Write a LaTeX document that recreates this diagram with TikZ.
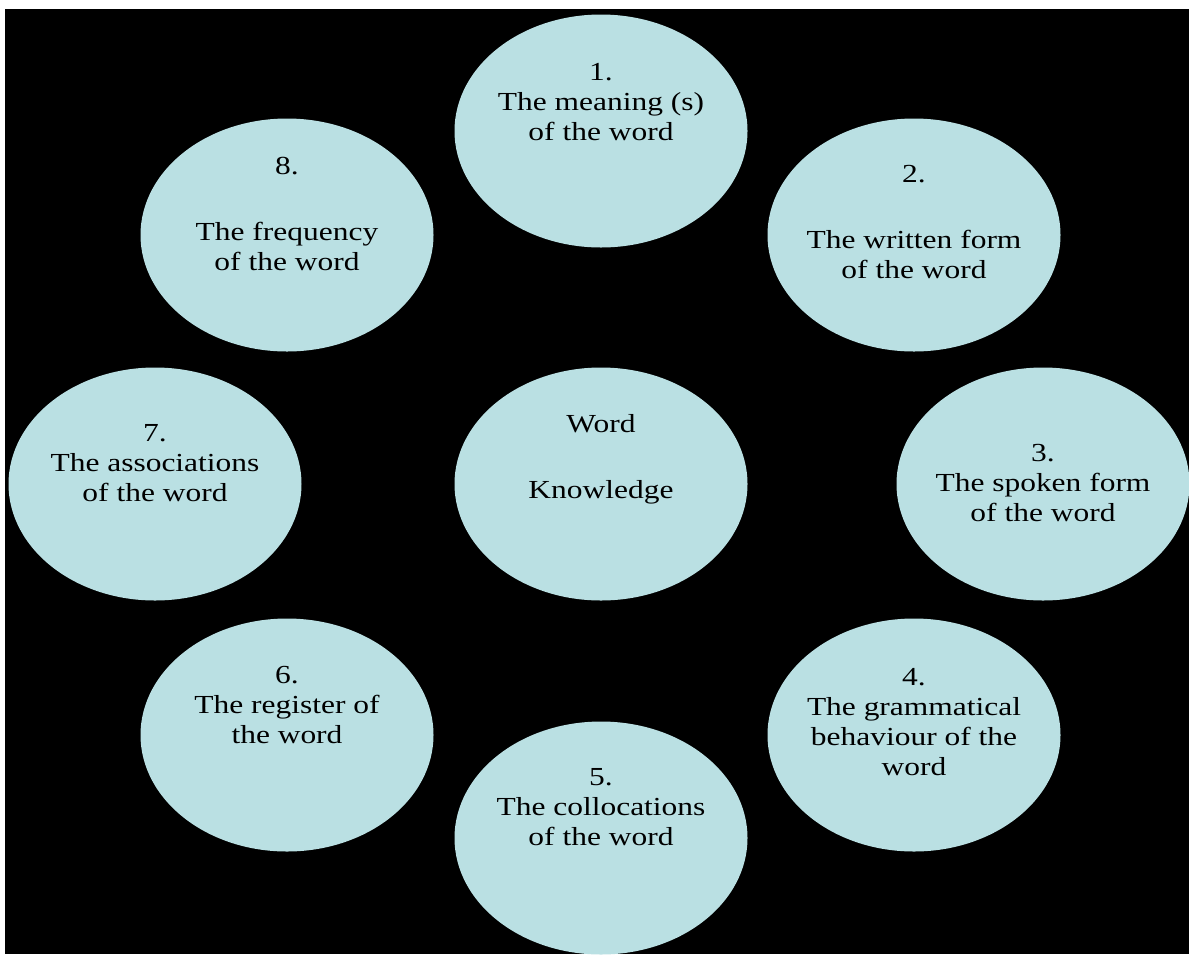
\documentclass[tikz,border=0pt]{standalone}
\usepackage{fontspec}
\setmainfont{Liberation Serif}[FakeStretch=1.21]
\usetikzlibrary{shapes.geometric}
\definecolor{bubble}{RGB}{186,224,227}

\begin{document}
\begin{tikzpicture}[x = 1pt, y = -1pt]
\tikzstyle{EllipseStyle} = [shape = ellipse, fill = bubble, minimum width = 293pt, minimum height = 233pt, inner sep = 0pt]
\tikzstyle{LabelStyle} = [anchor = north, align = center, inner sep = 0pt, font = \fontsize{26}{30}\selectfont]
\useasboundingbox (0,0) rectangle (1189,954);
\fill[white] (0,0) rectangle (1189,954);
\fill[black] (5,9) rectangle (1189,954);
% the nine bubbles
\node[EllipseStyle] (ek) at (601,484) {};
\node[EllipseStyle] (e1) at (601,131) {};
\node[EllipseStyle] (e2) at (914,235) {};
\node[EllipseStyle] (e3) at (1043,484) {};
\node[EllipseStyle] (e4) at (914,735) {};
\node[EllipseStyle] (e5) at (601,838) {};
\node[EllipseStyle] (e6) at (287,735) {};
\node[EllipseStyle] (e7) at (155,484) {};
\node[EllipseStyle] (e8) at (287,235) {};
% texts
\node[LabelStyle] (tk) at (601,414) {Word\\[36pt]Knowledge};
\node[LabelStyle] (t1) at (601,63) {1.\\The meaning (s)\\of the word};
\node[LabelStyle] (t2) at (914,165) {2.\\[36pt]The written form\\of the word};
\node[LabelStyle] (t3) at (1043,444) {3.\\The spoken form\\of the word};
\node[LabelStyle] (t4) at (914,668) {4.\\The grammatical\\behaviour of the\\word};
\node[LabelStyle] (t5) at (601,768) {5.\\The collocations\\of the word};
\node[LabelStyle] (t6) at (287,666) {6.\\The register of\\the word};
\node[LabelStyle] (t7) at (155,424) {7.\\The associations\\of the word};
\node[LabelStyle] (t8) at (287,157) {8.\\[36pt]The frequency\\of the word};
\end{tikzpicture}
\end{document}
